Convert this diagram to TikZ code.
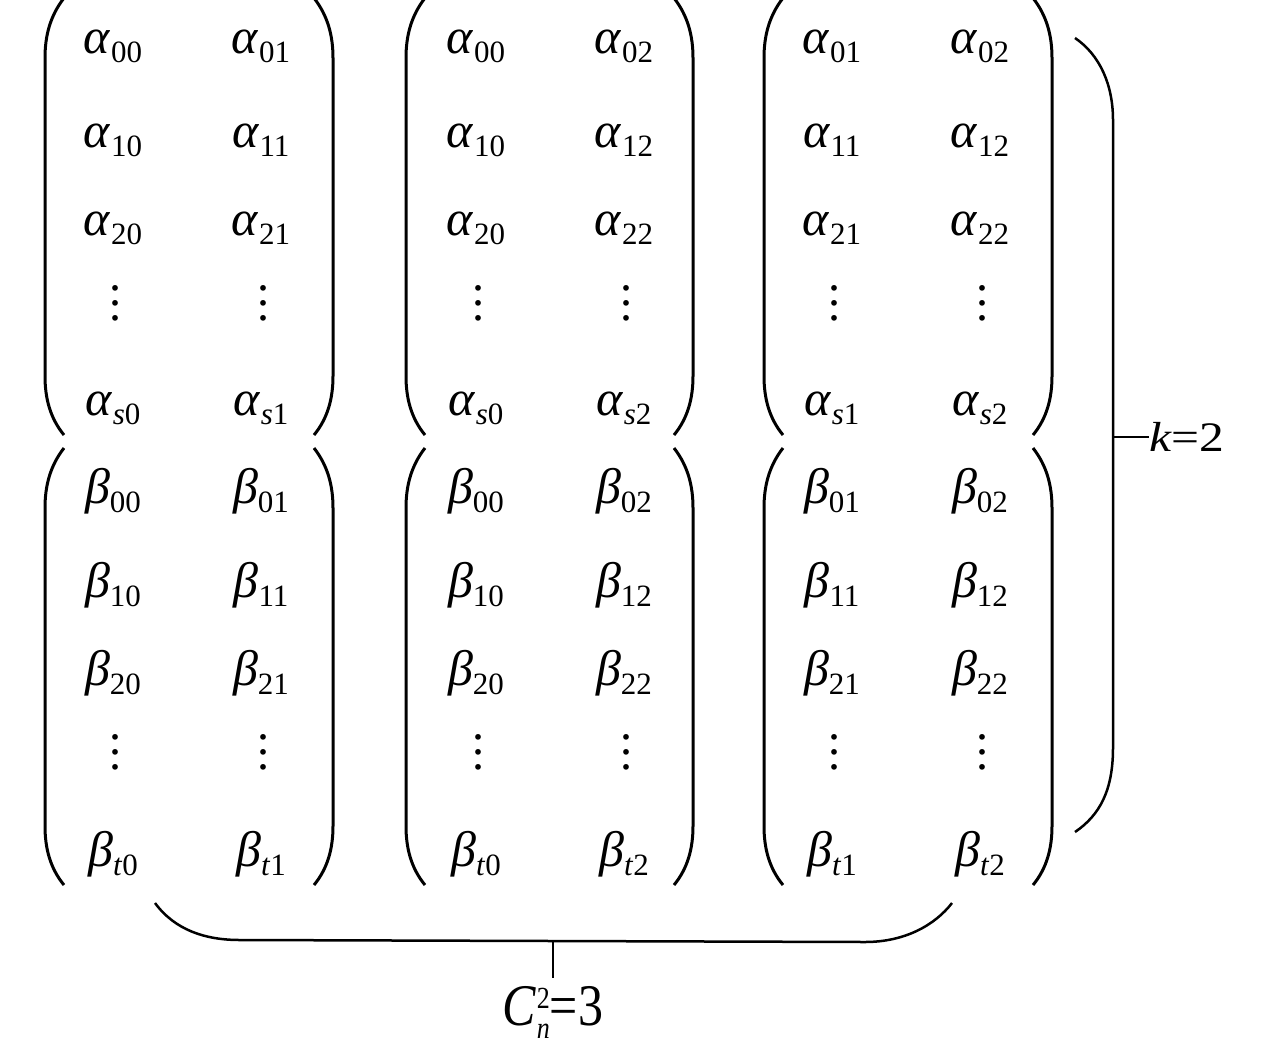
\documentclass[tikz,border=0pt]{standalone}
\usepackage{fontspec}
\usepackage{graphicx}
\setmainfont{Liberation Serif}

\newcommand\sub[1]{\raisebox{-9pt}{\fontsize{31}{31}\selectfont #1}}
\newcommand\vdotz{\vbox{\baselineskip=15pt\lineskiplimit=0pt\hbox{.}\hbox{.}\hbox{.}}}

\tikzset{
  entry/.style={anchor=base, inner sep=0pt, font=\fontsize{50}{52}\selectfont},
  dotz/.style={inner sep=0pt, font=\fontsize{48}{50}\selectfont},
  paren/.style={line width=3pt},
  brace/.style={line width=2.5pt},
}

\begin{document}
\begin{tikzpicture}[x=1pt,y=-1pt]
        \useasboundingbox (0,0) rectangle (1280,1053);
        % three pairs of blocks: columns, parens, indices
        \foreach \n/\xl/\xr/\pl/\pr/\i/\j in {1/113/261/45/333/0/1, 2/476/624/406/693/0/2, 3/832/980/764/1052/1/2}{
          \foreach \r/\y in {0/53,1/147,2/235}{
            \node[entry](a\n\r l)at(\xl,\y){\textit{α}\sub{\r\i}};
            \node[entry](a\n\r r)at(\xr,\y){\textit{α}\sub{\r\j}};
            \node[entry](b\n\r l)at(\xl,\y+450){\textit{β}\sub{\r\i}};
            \node[entry](b\n\r r)at(\xr,\y+450){\textit{β}\sub{\r\j}};
          }
          \node[dotz](a\n dl)at(\xl+2,303){\vdotz};
          \node[dotz](a\n dr)at(\xr+2,303){\vdotz};
          \node[dotz](b\n dl)at(\xl+2,752){\vdotz};
          \node[dotz](b\n dr)at(\xr+2,752){\vdotz};
          \node[entry](a\n sl)at(\xl,415){\textit{α}\sub{\textit{s}\i}};
          \node[entry](a\n sr)at(\xr,415){\textit{α}\sub{\textit{s}\j}};
          \node[entry](b\n tl)at(\xl,866){\textit{β}\sub{\textit{t}\i}};
          \node[entry](b\n tr)at(\xr,866){\textit{β}\sub{\textit{t}\j}};
          % round brackets
          \foreach \t in {-2,448}{
            \draw[paren]({\pl+19},\t)..controls({\pl+5},{\t+18})and(\pl,{\t+38})..(\pl,{\t+60})
              --(\pl,{\t+378})..controls(\pl,{\t+400})and({\pl+5},{\t+420})..({\pl+19},{\t+437});
            \draw[paren]({\pr-19},\t)..controls({\pr-5},{\t+18})and(\pr,{\t+38})..(\pr,{\t+60})
              --(\pr,{\t+378})..controls(\pr,{\t+400})and({\pr-5},{\t+420})..({\pr-19},{\t+437});
          }
        }

        % right brace
        \draw[brace](1075,38)..controls(1100,55)and(1113,85)..(1113,120)--(1113,748)
          ..controls(1113,790)and(1100,815)..(1075,832);
        \coordinate(kb)at(1113,437);
        \node[anchor=west,inner sep=0pt,font=\fontsize{42}{44}\selectfont](klab)at(1149,437){\scalebox{1.18}[1]{\textit{k}=2}};
        \draw[line width=2pt](kb)--(klab.west);

        % bottom brace
        \draw[brace](155,903)..controls(175,930)and(205,940)..(240,940)--(865,942)
          ..controls(905,942)and(935,925)..(952,903);
        \coordinate(cb)at(553,941);
        \node[anchor=north,inner sep=8pt,font=\fontsize{50}{52}\selectfont](clab)at(553,978)
          {\scalebox{1}[1.18]{\textit{C}\rlap{\raisebox{14pt}{\fontsize{26}{26}\selectfont 2}}\raisebox{-11pt}{\fontsize{26}{26}\selectfont\textit{n}}=3}};
        \draw[line width=2pt](cb)--(clab.north);
\end{tikzpicture}
\end{document}
